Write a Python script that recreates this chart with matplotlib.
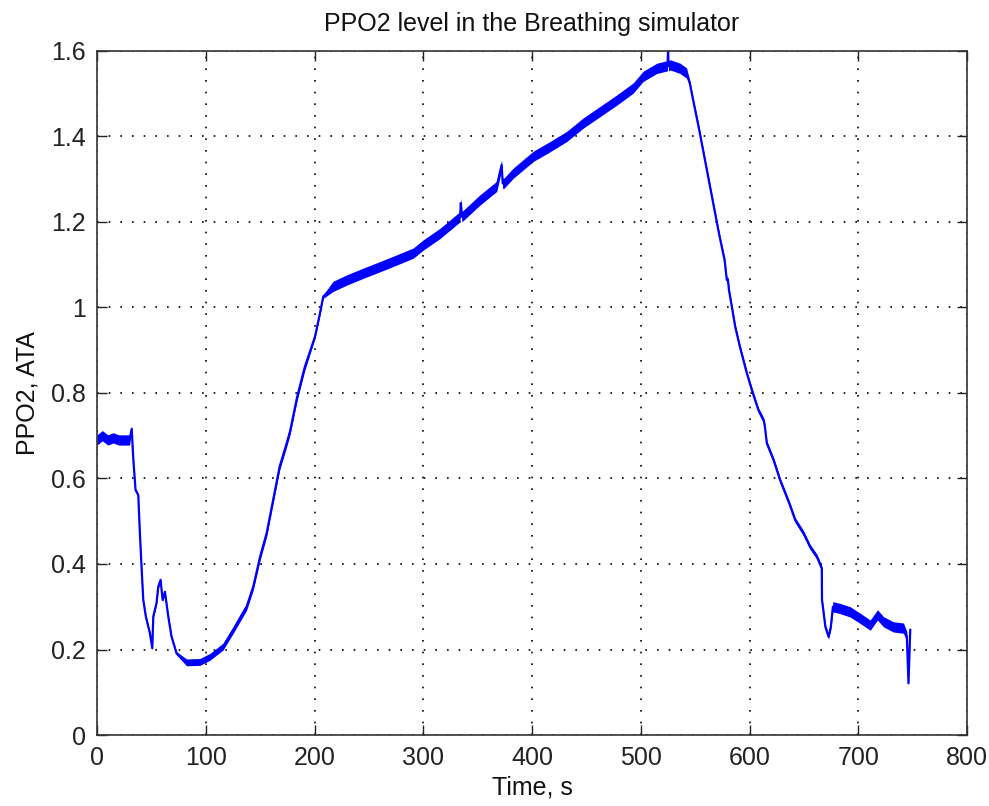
import matplotlib.pyplot as plt

# time (s) and PPO2 (ATA)
time_s = [0, 5, 10, 15, 20, 25, 30, 32, 33.4, 35.5, 38, 39.5, 41, 42.6, 45, 48.7, 50.9,
          51.8, 54.8, 56.4, 58.5, 60.4, 62.5, 65.6, 68.6, 73.2, 82.4, 94.7, 103.9, 116,
          125.3, 137.6, 143.7, 150, 156, 162, 168, 174.4, 177.5, 184, 191, 200.5, 205,
          208, 217, 229.6, 244.9, 260, 275.6, 290.8, 300, 315.4, 333.8, 334.5, 335.5,
          352, 367.5, 372, 373, 374, 382.8, 401, 416.6, 432, 447, 462.5, 478, 493, 502,
          514.7, 524.5, 525, 525.5, 527, 536, 542, 545, 548, 553, 560, 566, 572, 577,
          579, 580, 581, 583.6, 586.7, 591, 597.4, 602, 608, 613, 614, 615.8, 622, 628,
          637, 641.8, 649.5, 655.6, 661.8, 666.3, 666.5, 669.6, 672.5, 674.6, 676.5,
          683, 692.4, 701.6, 710.8, 717.5, 723, 732, 741.4, 744.5, 746, 747.6]
ppo2 = [0.69, 0.70, 0.69, 0.695, 0.69, 0.69, 0.69, 0.716, 0.647, 0.573, 0.561, 0.472, 0.394,
        0.316, 0.277, 0.238, 0.203, 0.277, 0.309, 0.347, 0.363, 0.316, 0.335, 0.277, 0.230,
        0.191, 0.170, 0.171, 0.183, 0.207, 0.246, 0.300, 0.347, 0.417, 0.472, 0.55, 0.628,
        0.682, 0.71, 0.79, 0.86, 0.932, 0.986, 1.025, 1.049, 1.064, 1.080, 1.095, 1.111,
        1.127, 1.146, 1.173, 1.212, 1.244, 1.212, 1.251, 1.283, 1.333, 1.29, 1.29, 1.314,
        1.353, 1.376, 1.40, 1.431, 1.458, 1.485, 1.513, 1.540, 1.559, 1.565, 1.60, 1.565,
        1.567, 1.559, 1.548, 1.524, 1.485, 1.423, 1.33, 1.25, 1.17, 1.11, 1.064, 1.065,
        1.04, 1.002, 0.955, 0.908, 0.846, 0.807, 0.760, 0.735, 0.721, 0.682, 0.643, 0.596,
        0.538, 0.503, 0.472, 0.440, 0.417, 0.390, 0.316, 0.253, 0.230, 0.253, 0.300, 0.296,
        0.288, 0.273, 0.257, 0.281, 0.265, 0.253, 0.250, 0.230, 0.121, 0.246]

# half-width of the noise band around the trace, by time segment (start, end, spread)
noise_segments = [(0, 31, 0.012), (31, 75, 0.004), (75, 200, 0.008),
                  (200, 215, 0.004), (215, 545, 0.012), (545, 675, 0.006),
                  (675, 745, 0.012), (745, 760, 0.004)]

x_ticks = [0, 100, 200, 300, 400, 500, 600, 700, 800]
y_ticks = [0, 0.2, 0.4, 0.6, 0.8, 1.0, 1.2, 1.4, 1.6]
y_labels = ['0', '0.2', '0.4', '0.6', '0.8', '1', '1.2', '1.4', '1.6']


def spread_at(t):
    for a, b, s in noise_segments:
        if a <= t < b:
            return s
    return 0.0


plt.rcParams['font.family'] = ['Liberation Sans', 'DejaVu Sans']

fig = plt.figure(figsize=(9.89, 8.06), dpi=100)
ax = fig.add_axes([0.098, 0.088, 0.88, 0.849])

spread = [spread_at(t) for t in time_s]
lo = [v - s for v, s in zip(ppo2, spread)]
hi = [v + s for v, s in zip(ppo2, spread)]
ax.fill_between(time_s, lo, hi, color='#0000ff', linewidth=0)
ax.plot(time_s, ppo2, color='#0000ff', linewidth=1.6)

ax.set_xlim(0, 800)
ax.set_ylim(0, 1.6)
ax.set_xticks(x_ticks)
ax.set_yticks(y_ticks)
ax.set_yticklabels(y_labels)
ax.grid(True, color='black', linestyle=(0, (1, 6)), linewidth=1.2)
ax.tick_params(direction='in', length=7, width=1, top=True, right=True,
               labelsize=18, pad=8, colors='#222222')
for s in ax.spines.values():
    s.set_linewidth(1.2)
    s.set_color('#333333')

ax.set_title('PPO2 level in the Breathing simulator', fontsize=18, pad=14, color='#111111')
ax.set_xlabel('Time, s', fontsize=18, labelpad=4, color='#111111')
ax.set_ylabel('PPO2, ATA', fontsize=18, labelpad=8, color='#111111')

fig.savefig('out.png', dpi=100)
